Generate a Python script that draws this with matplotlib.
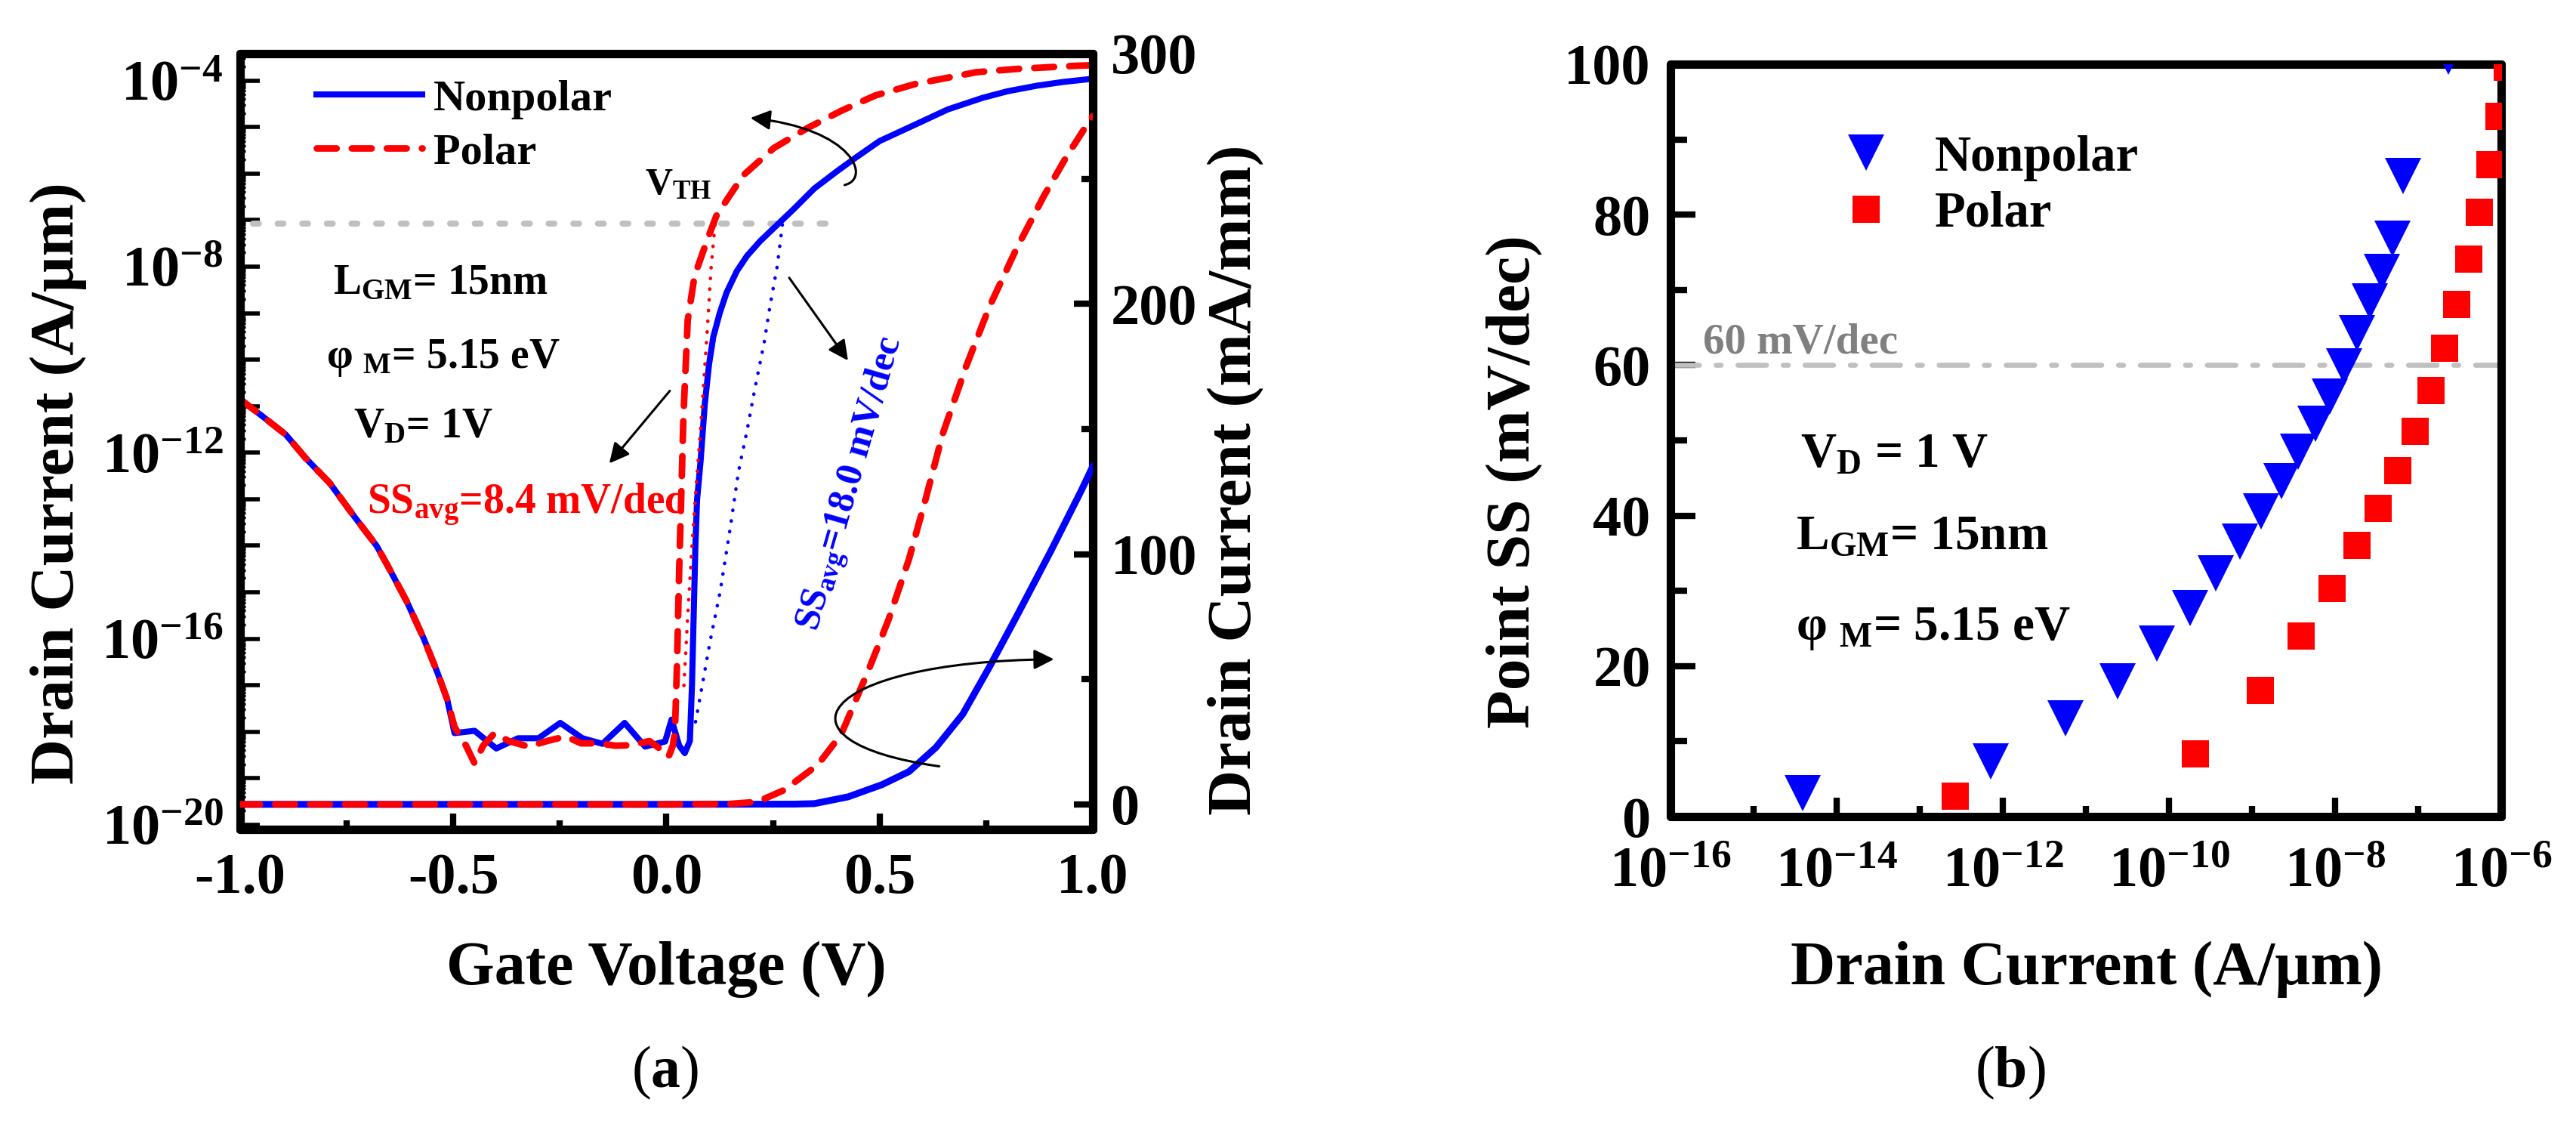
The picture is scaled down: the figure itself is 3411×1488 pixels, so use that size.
import numpy as np
import matplotlib
matplotlib.use('Agg')
import matplotlib.pyplot as plt
from matplotlib.ticker import FixedLocator, FuncFormatter, NullFormatter
from matplotlib.patches import FancyArrowPatch
from matplotlib.path import Path

plt.rcParams['font.family'] = 'serif'
plt.rcParams['font.serif'] = ['Liberation Serif', 'DejaVu Serif']
plt.rcParams['font.weight'] = 'bold'
plt.rcParams['mathtext.fontset'] = 'custom'
plt.rcParams['mathtext.rm'] = 'Liberation Serif:bold'
plt.rcParams['mathtext.it'] = 'Liberation Serif:italic:bold'
plt.rcParams['mathtext.bf'] = 'Liberation Serif:bold'
plt.rcParams['axes.unicode_minus'] = False

# ---- (a) transfer curves, log10 of drain current (A/um) ----
vg_log_np = [-1.0, -0.95, -0.893, -0.846, -0.79, -0.734, -0.68, -0.655, -0.609, -0.569,
             -0.537, -0.514, -0.497, -0.45, -0.399, -0.348, -0.30, -0.249, -0.197, -0.15,
             -0.098, -0.05, -0.003, 0.012, 0.03, 0.043, 0.055, 0.060, 0.064, 0.068,
             0.072, 0.080, 0.090, 0.100, 0.110, 0.125, 0.141, 0.165, 0.189, 0.22,
             0.26, 0.30, 0.347, 0.40, 0.442, 0.50, 0.585, 0.66, 0.742, 0.80,
             0.869, 0.93, 1.0]
lg_np = [-10.85, -11.2, -11.61, -12.12, -12.65, -13.35, -14.0, -14.41, -15.2, -16.0,
         -16.73, -17.31, -18.03, -17.98, -18.36, -18.14, -18.14, -17.81, -18.14, -18.26,
         -17.81, -18.32, -18.21, -17.74, -18.3, -18.46, -18.2, -17.0, -15.5, -14.0,
         -13.0, -12.2, -10.96, -10.1, -9.51, -9.0, -8.56, -8.1, -7.77, -7.45,
         -7.10, -6.75, -6.32, -5.95, -5.67, -5.3, -4.94, -4.62, -4.37, -4.23,
         -4.11, -4.03, -3.96]

vg_log_p = [-1.0, -0.95, -0.893, -0.846, -0.79, -0.734, -0.68, -0.655, -0.609, -0.569,
            -0.537, -0.514, -0.497, -0.47, -0.45, -0.43, -0.403, -0.37, -0.323, -0.28,
            -0.236, -0.2, -0.157, -0.12, -0.079, -0.04, -0.01, 0.005, 0.015, 0.020,
            0.025, 0.030, 0.034, 0.037, 0.040, 0.050, 0.066, 0.094, 0.117, 0.15,
            0.181, 0.252, 0.331, 0.410, 0.490, 0.585, 0.727, 0.821, 0.964, 1.0]
lg_p = [-10.85, -11.2, -11.61, -12.12, -12.65, -13.35, -14.0, -14.41, -15.2, -16.0,
        -16.73, -17.31, -17.9, -18.3, -18.68, -18.3, -18.03, -18.2, -18.32, -18.2,
        -18.1, -18.25, -18.25, -18.3, -18.29, -18.2, -18.4, -18.54, -18.3, -18.0,
        -16.5, -14.5, -13.2, -12.2, -11.2, -9.15, -8.20, -7.47, -6.91, -6.45,
        -6.03, -5.45, -5.02, -4.65, -4.32, -4.07, -3.82, -3.75, -3.68, -3.67]

# average SS fit lines (dotted)
vg_fit_np = [0.272, 0.260, 0.244, 0.229, 0.208, 0.189, 0.169, 0.150, 0.126, 0.102, 0.078, 0.066]
lg_fit_np = [-7.1, -7.99, -8.79, -9.65, -10.6, -11.53, -12.41, -13.6, -14.99, -16.08, -17.31, -17.9]
vg_fit_p = [0.114, 0.105, 0.097, 0.089, 0.080, 0.070, 0.060, 0.050, 0.040]
lg_fit_p = [-7.1, -8.0, -9.2, -10.3, -11.5, -12.7, -14.0, -15.5, -17.2]

# linear drain current (mA/mm), right axis
vg_lin_np = [-1.0, 0.0, 0.30, 0.347, 0.426, 0.506, 0.569, 0.632, 0.695, 0.758, 0.821, 0.901, 0.972, 1.0]
id_lin_np = [0, 0, 0.1, 0.3, 3.0, 7.9, 13.1, 22.7, 36, 55, 75, 101, 125, 135]
vg_lin_p = [-1.0, 0.0, 0.15, 0.213, 0.276, 0.355, 0.410, 0.474, 0.521, 0.569,
            0.608, 0.648, 0.703, 0.758, 0.821, 0.885, 0.939, 0.988, 1.0]
id_lin_p = [0, 0, 0.2, 1.0, 5.7, 15.8, 28, 53.6, 73.8, 98,
            122, 148, 175, 199, 222, 243, 259, 272, 275]

vth_level = 10 ** -7.08

# ---- (b) point SS vs drain current ----
lg_i_np = [-14.41, -12.15, -11.25, -10.62, -10.15, -9.75, -9.44, -9.15, -8.89, -8.65,
           -8.45, -8.24, -8.06, -7.89, -7.74, -7.58, -7.44, -7.31, -7.18, -6.64]
ss_np = [3.1, 7.3, 13.1, 18.0, 23.0, 27.7, 32.3, 36.5, 40.6, 44.6,
         48.5, 52.2, 55.8, 59.8, 64.3, 68.5, 72.4, 76.8, 85.1, 101.0]
lg_i_p = [-12.57, -9.68, -8.90, -8.41, -8.04, -7.74, -7.48, -7.25, -7.04, -6.85,
          -6.68, -6.54, -6.39, -6.26, -6.14, -6.03, -5.93]
ss_p = [2.7, 8.3, 16.8, 24.0, 30.3, 36.0, 41.0, 46.0, 51.2, 56.6,
        62.2, 68.1, 74.1, 80.3, 86.6, 93.1, 99.6]

BLUE = '#0000ff'
RED = '#ff0000'
TICK = 55
SPINE = 8

fig = plt.figure(figsize=(34.11, 14.88), dpi=100)

# ================= panel (a) =================
ax = fig.add_axes([0.0932, 0.2621, 0.3310, 0.6902])
ax2 = ax.twinx()

ax.set_yscale('log')
ax.plot(vg_log_np, 10 ** np.array(lg_np), color=BLUE, lw=5.8, label='Nonpolar', zorder=3)
ax.plot(vg_log_p, 10 ** np.array(lg_p), color=RED, lw=6.3, ls=(0, (3.0, 2.3)),
        dash_capstyle='round', label='Polar', zorder=4)
ax.plot(vg_fit_np, 10 ** np.array(lg_fit_np), color=BLUE, lw=3.3, ls=(0, (0.1, 3.0)),
        dash_capstyle='round', zorder=3)
ax.plot(vg_fit_p, 10 ** np.array(lg_fit_p), color=RED, lw=3.3, ls=(0, (0.1, 3.0)),
        dash_capstyle='round', zorder=3)
ax.plot([-0.97, 0.40], [vth_level, vth_level], color='#c0c0c0', lw=5.8,
        ls=(0, (0.95, 3.1)), dash_capstyle='round', zorder=2)

ax2.plot(vg_lin_np, id_lin_np, color=BLUE, lw=6.5, zorder=3)
ax2.plot(vg_lin_p, id_lin_p, color=RED, lw=6.3, ls=(0, (3.0, 2.3)), dash_capstyle='round', zorder=4)

ax.set_xlim(-1.0, 1.0)
ax.set_ylim(10 ** -20.1, 10 ** -3.42)
ax2.set_ylim(-10, 300)

ax.xaxis.set_major_locator(FixedLocator([-1.0, -0.5, 0.0, 0.5, 1.0]))
ax.xaxis.set_minor_locator(FixedLocator([-0.75, -0.25, 0.25, 0.75]))
ax.xaxis.set_major_formatter(FuncFormatter(lambda v, p: '%.1f' % v))

decades = [10.0 ** k for k in range(-20, -3)]
ax.yaxis.set_major_locator(FixedLocator(decades))
ax.yaxis.set_minor_locator(FixedLocator([m * 10.0 ** k for k in range(-21, -3) for m in range(2, 10)]))
ax.yaxis.set_minor_formatter(NullFormatter())


def log_label(v, p):
    e = int(round(np.log10(v)))
    return r'$10^{%d}$' % e if e % 4 == 0 else ''


ax.yaxis.set_major_formatter(FuncFormatter(log_label))

ax.tick_params(axis='y', which='major', direction='in', length=19, width=4, labelsize=TICK,
               left=True, right=False, pad=16)
ax.tick_params(axis='y', which='minor', direction='in', length=5, width=2.5, left=True, right=False)
ax.tick_params(axis='x', which='major', direction='in', length=15, width=6, labelsize=TICK,
               top=False, pad=22)
ax.tick_params(axis='x', which='minor', direction='in', length=9, width=6, top=False)

ax2.yaxis.set_major_locator(FixedLocator([0, 100, 200, 300]))
ax2.yaxis.set_minor_locator(FixedLocator([50, 150, 250]))
ax2.tick_params(axis='y', which='major', direction='in', length=18, width=6, labelsize=TICK, pad=17)
ax2.tick_params(axis='y', which='minor', direction='in', length=11, width=6)

for a in (ax, ax2):
    for s in a.spines.values():
        s.set_linewidth(SPINE)
        s.set_capstyle('round')

ax.set_xlabel('Gate Voltage (V)', fontsize=59, fontweight='bold')
ax.xaxis.set_label_coords(0.50, -0.180)
ax.xaxis.label.set_va('center')
ax.set_ylabel('Drain Current (A/µm)', fontsize=60, fontweight='bold')
ax.yaxis.set_label_coords(-0.2135, 0.446)
ax.yaxis.label.set_va('center')
ax2.set_ylabel('Drain Current (mA/mm)', fontsize=60, fontweight='bold', rotation=90)
ax2.yaxis.set_label_coords(1.168, 0.451)
ax2.yaxis.label.set_va('center')

ax.legend(loc='upper left', bbox_to_anchor=(0.0895, 0.967), frameon=False, fontsize=42,
          handlelength=2.4, handletextpad=0.25, labelspacing=0.3, borderpad=0, borderaxespad=0)

ax.text(-0.05, 10 ** -6.44, r'V$_{\mathrm{TH}}$', fontsize=36, va='baseline')
ax.text(-0.782, 10 ** -8.59, r'L$_{\mathrm{GM}}$= 15nm', fontsize=40, va='baseline')
ax.text(-0.798, 10 ** -10.17, r'φ $_{\mathrm{M}}$= 5.15 eV', fontsize=40, va='baseline')
ax.text(-0.735, 10 ** -11.68, r'V$_{\mathrm{D}}$= 1V', fontsize=40, va='baseline')
ax.text(-0.702, 10 ** -13.32, r'SS$_{\mathrm{avg}}$=8.4 mV/dec', fontsize=40, color=RED, va='baseline')
ax.text(0.355, 10 ** -15.86, r'SS$_{\mathrm{avg}}$=18.0 mV/dec', fontsize=36, color=BLUE,
        rotation=74, rotation_mode='anchor', ha='left', va='baseline')

arrow_kw = dict(arrowstyle='-|>', color='k', lw=2.2, mutation_scale=40, shrinkA=0, shrinkB=0)
ax.annotate('', xy=(-0.134, 10 ** -12.23), xytext=(0.008, 10 ** -10.67), arrowprops=arrow_kw)
ax.annotate('', xy=(0.426, 10 ** -10.02), xytext=(0.288, 10 ** -8.24), arrowprops=arrow_kw)

# curved arrows pointing to the axis each curve family belongs to
top_arc = Path([(0.418, 247.5), (0.481, 250), (0.440, 270), (0.197, 274.3)],
               [Path.MOVETO, Path.CURVE4, Path.CURVE4, Path.CURVE4])
ax2.add_patch(FancyArrowPatch(path=top_arc, arrowstyle='-|>', color='k', lw=2.2,
                              mutation_scale=40, zorder=6))
bottom_arc = Path([(0.640, 15.2), (0.23, 25), (0.35, 57), (0.909, 58)],
                  [Path.MOVETO, Path.CURVE4, Path.CURVE4, Path.CURVE4])
ax2.add_patch(FancyArrowPatch(path=bottom_arc, arrowstyle='-|>', color='k', lw=2.2,
                              mutation_scale=40, zorder=6))

# ================= panel (b) =================
bx = fig.add_axes([0.6485, 0.2735, 0.3225, 0.6694])
bx.set_xscale('log')
bx.plot(10 ** np.array(lg_i_np), ss_np, ls='none', marker='v', ms=34, color=BLUE,
        mew=0, label='Nonpolar', zorder=3)
bx.plot(10 ** np.array(lg_i_p), ss_p, ls='none', marker='s', ms=26, color=RED,
        mew=0, label='Polar', zorder=3)
bx.axhline(60, color='#c0c0c0', lw=4.8, ls=(0, (5.66, 3.33, 1.0, 3.33)),
           dash_capstyle='round', zorder=2)

bx.set_xlim(1e-16, 1e-6)
bx.set_ylim(0, 100)
bx.xaxis.set_major_locator(FixedLocator([10.0 ** k for k in range(-16, -5, 2)]))
bx.xaxis.set_minor_locator(FixedLocator([10.0 ** k for k in range(-15, -6, 2)]))
bx.xaxis.set_minor_formatter(NullFormatter())
bx.xaxis.set_major_formatter(FuncFormatter(lambda v, p: r'$10^{%d}$' % int(round(np.log10(v)))))
bx.yaxis.set_major_locator(FixedLocator([0, 20, 40, 60, 80, 100]))
bx.yaxis.set_minor_locator(FixedLocator([10, 30, 50, 70, 90]))

bx.tick_params(axis='x', which='major', direction='in', length=18, width=6, labelsize=TICK,
               top=False, pad=29)
bx.tick_params(axis='x', which='minor', direction='in', length=10, width=6, top=False)
bx.tick_params(axis='y', which='major', direction='in', length=24, width=6, labelsize=TICK,
               right=False, pad=19)
bx.tick_params(axis='y', which='minor', direction='in', length=16, width=6, right=False)
for s in bx.spines.values():
    s.set_linewidth(SPINE)
    s.set_capstyle('round')

bx.set_xlabel('Drain Current (A/µm)', fontsize=59, fontweight='bold')
bx.xaxis.set_label_coords(0.501, -0.203)
bx.xaxis.label.set_va('center')
bx.set_ylabel('Point SS (mV/dec)', fontsize=60, fontweight='bold')
bx.yaxis.set_label_coords(-0.187, 0.445)
bx.yaxis.label.set_va('center')

bx.legend(loc='upper left', bbox_to_anchor=(0.205, 0.906), frameon=False, fontsize=48,
          handlelength=1.0, handletextpad=0.87, labelspacing=0.2, borderpad=0,
          borderaxespad=0, numpoints=1)

bx.text(10 ** -15.61, 61.6, '60 mV/dec', fontsize=41, color='#808080', va='baseline')
bx.text(10 ** -14.44, 46.5, r'V$_{\mathrm{D}}$ = 1 V', fontsize=47, va='baseline')
bx.text(10 ** -14.49, 35.5, r'L$_{\mathrm{GM}}$= 15nm', fontsize=47, va='baseline')
bx.text(10 ** -14.49, 23.5, r'φ $_{\mathrm{M}}$= 5.15 eV', fontsize=47, va='baseline')

fig.text(881 / 3411, 1 - 1420 / 1488, r'($\mathbf{a}$)', fontsize=56, fontweight='normal',
         ha='center', va='center')
fig.text(2662 / 3411, 1 - 1420 / 1488, r'($\mathbf{b}$)', fontsize=56, fontweight='normal',
         ha='center', va='center')

fig.savefig('out.png', dpi=100)
